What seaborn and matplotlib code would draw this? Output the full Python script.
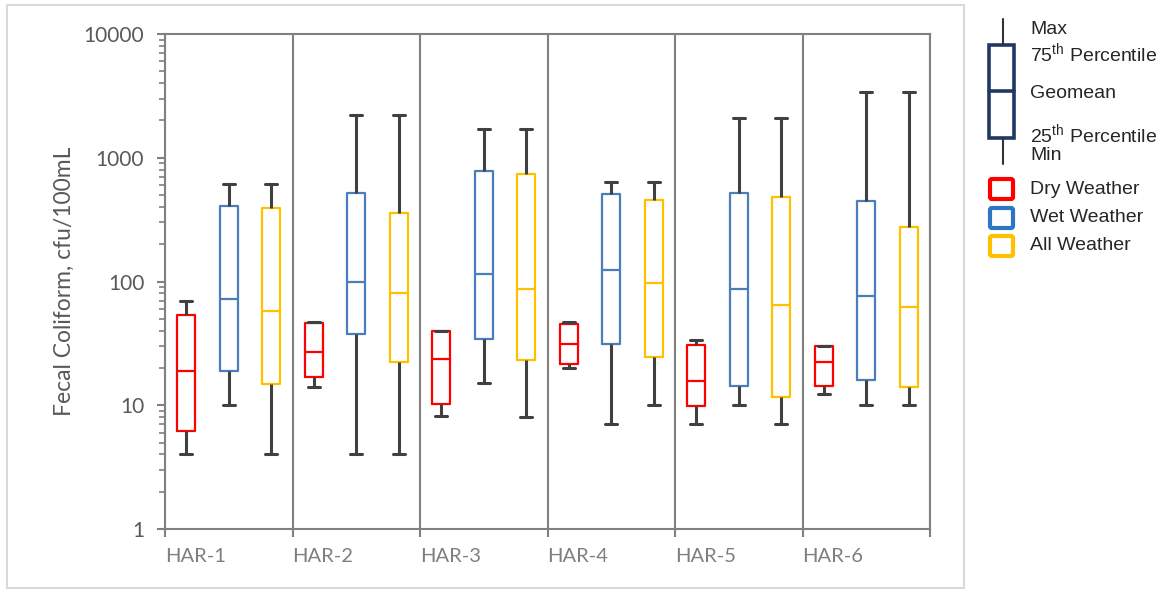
import numpy as np
import pandas as pd
import matplotlib
matplotlib.use("Agg")
import matplotlib.pyplot as plt
from matplotlib.patches import Rectangle, FancyBboxPatch
from matplotlib.lines import Line2D
from matplotlib.ticker import LogLocator, NullFormatter
import matplotlib.colors as mcolors
import seaborn as sns

# ---------------- data ----------------
sites = ["HAR-1", "HAR-2", "HAR-3", "HAR-4", "HAR-5", "HAR-6"]
weather_types = ["Dry Weather", "Wet Weather", "All Weather"]

dry_min = [4, 14, 8.2, 20, 7, 12.3]
dry_p25 = [6.2, 17, 10.3, 21.5, 9.9, 14.3]
dry_geomean = [19, 27, 23.5, 31, 15.6, 22.2]
dry_p75 = [54, 46, 40, 45, 30.5, 30.3]
dry_max = [70, 47, 40, 47.5, 33.5, 30.3]

wet_min = [10, 4, 15, 7, 10, 10]
wet_p25 = [19, 38, 34, 31, 14.3, 16]
wet_geomean = [72, 100, 116, 125, 87, 77]
wet_p75 = [410, 516, 786, 509, 522, 450]
wet_max = [610, 2200, 1700, 633, 2100, 3400]

all_min = [4, 4, 8.1, 10, 7, 10]
all_p25 = [14.8, 22.2, 23.2, 24.4, 11.6, 14.1]
all_geomean = [58, 80, 87, 98, 65, 62.6]
all_p75 = [393, 360, 735, 456, 484, 277]
all_max = [610, 2200, 1700, 633, 2100, 3400]

series = {
    "Dry Weather": (dry_min, dry_p25, dry_geomean, dry_p75, dry_max),
    "Wet Weather": (wet_min, wet_p25, wet_geomean, wet_p75, wet_max),
    "All Weather": (all_min, all_p25, all_geomean, all_p75, all_max),
}
colors = {"Dry Weather": "#FF0000", "Wet Weather": "#4A7EBB", "All Weather": "#FFC000"}

rows = []
for w, stats in series.items():
    for i, s in enumerate(sites):
        for arr in stats:
            rows.append({"site": s, "weather": w, "value": arr[i]})
df = pd.DataFrame(rows)

# ---------------- style ----------------
sns.set_theme(style="white")
plt.rcParams["font.family"] = ["Lato", "DejaVu Sans"]
plt.rcParams["mathtext.fontset"] = "custom"
plt.rcParams["mathtext.rm"] = "Liberation Sans"
plt.rcParams["mathtext.it"] = "Liberation Sans"

W, H = 1164, 590
fig = plt.figure(figsize=(W / 100, H / 100), dpi=100)
fig.patch.set_facecolor("white")

ax = fig.add_axes([165 / W, 1 - 529 / H, (930 - 165) / W, (529 - 34) / H])

grey = "#808080"
whisk = "#404040"

sns.boxplot(
    data=df, x="site", y="value", hue="weather",
    order=sites, hue_order=weather_types, palette=colors,
    fill=False, whis=(0, 100), width=1.0, gap=0.57,
    log_scale=True, linewidth=1.6, showfliers=False, legend=False,
    whiskerprops={"color": whisk, "linewidth": 2.2},
    capprops={"color": whisk, "linewidth": 2.2},
    ax=ax,
)

# widen the whisker caps a little (Excel-style caps)
wrgb = mcolors.to_rgba(whisk)
for ln in ax.lines:
    xd, yd = np.asarray(ln.get_xdata(), float), np.asarray(ln.get_ydata(), float)
    if len(xd) == 2 and yd[0] == yd[1] and mcolors.to_rgba(ln.get_color()) == wrgb:
        c = xd.mean()
        half = (xd[1] - xd[0]) / 2 * 1.35
        ln.set_xdata([c - half, c + half])

# axes formatting
ax.set_xlim(-0.5, 5.5)
ax.set_ylim(1, 10000)
ax.set_xlabel("")
ax.set_ylabel("Fecal Coliform, cfu/100mL", fontsize=16.5, color="#595959", labelpad=6)

ax.set_xticks(np.arange(-0.5, 6.0, 1.0))
ax.set_xticklabels(sites + [""], ha="left", fontsize=14.5, color="#7f7f7f")
ax.set_yticks([1, 10, 100, 1000, 10000])
ax.set_yticklabels(["1", "10", "100", "1000", "10000"], fontsize=15, color="#595959")
ax.yaxis.set_minor_locator(LogLocator(base=10, subs=np.arange(2, 10)))
ax.yaxis.set_minor_formatter(NullFormatter())

ax.tick_params(axis="x", which="major", direction="out", length=6, width=1.5,
               color=grey, pad=8, bottom=True)
ax.tick_params(axis="y", which="major", direction="out", length=6, width=1.5,
               color=grey, pad=9, left=True)
ax.tick_params(axis="y", which="minor", direction="out", length=4, width=1.2,
               color=grey, left=True)

ax.set_axisbelow(True)
ax.grid(False)
ax.xaxis.grid(True, color=grey, linewidth=1.5)
for sp in ax.spines.values():
    sp.set_visible(True)
    sp.set_color(grey)
    sp.set_linewidth(1.5)

# ---------------- outer frame & legend (overlay in pixel coordinates) ----------------
ov = fig.add_axes([0, 0, 1, 1], zorder=-1)
ov.set_xlim(0, W)
ov.set_ylim(H, 0)
ov.axis("off")
ov.add_patch(Rectangle((7, 5), 957, 583, fill=False, edgecolor="#d9d9d9", linewidth=1.5))

lg = fig.add_axes([0, 0, 1, 1], zorder=5)
lg.set_xlim(0, W)
lg.set_ylim(H, 0)
lg.axis("off")
lg.patch.set_alpha(0)

navy = "#203864"
lg.add_line(Line2D([1003, 1003], [19, 45], color="#333333", linewidth=1.5))
lg.add_line(Line2D([1003, 1003], [138, 164], color="#333333", linewidth=1.5))
lg.add_patch(Rectangle((989, 45), 25, 93, fill=False, edgecolor=navy, linewidth=2.6))
lg.add_line(Line2D([989, 1014], [91, 91], color=navy, linewidth=2.6))

tcol = "#262626"
fs = 14
lf = "Liberation Sans"
lg.text(1030, 30, "Max", fontsize=fs, color=tcol, va="center", family=lf)
lg.text(1030, 53, "75$^{\\rm th}$ Percentile", fontsize=fs, color=tcol, va="center", family=lf)
lg.text(1030, 93, "Geomean", fontsize=fs, color=tcol, va="center", family=lf)
lg.text(1030, 134, "25$^{\\rm th}$ Percentile", fontsize=fs, color=tcol, va="center", family=lf)
lg.text(1030, 156, "Min", fontsize=fs, color=tcol, va="center", family=lf)

legend_edge = {"Dry Weather": "#FF0000", "Wet Weather": "#2E75C4", "All Weather": "#FFC000"}
for (w, y) in zip(weather_types, [189, 218, 246]):
    lg.add_patch(FancyBboxPatch((990, y - 10), 23, 20, boxstyle="round,pad=0,rounding_size=2",
                                fill=False, edgecolor=legend_edge[w], linewidth=3.0))
    lg.text(1030, y, w, fontsize=fs, color=tcol, va="center", family=lf)

fig.savefig("out.png", dpi=100, facecolor="white")
